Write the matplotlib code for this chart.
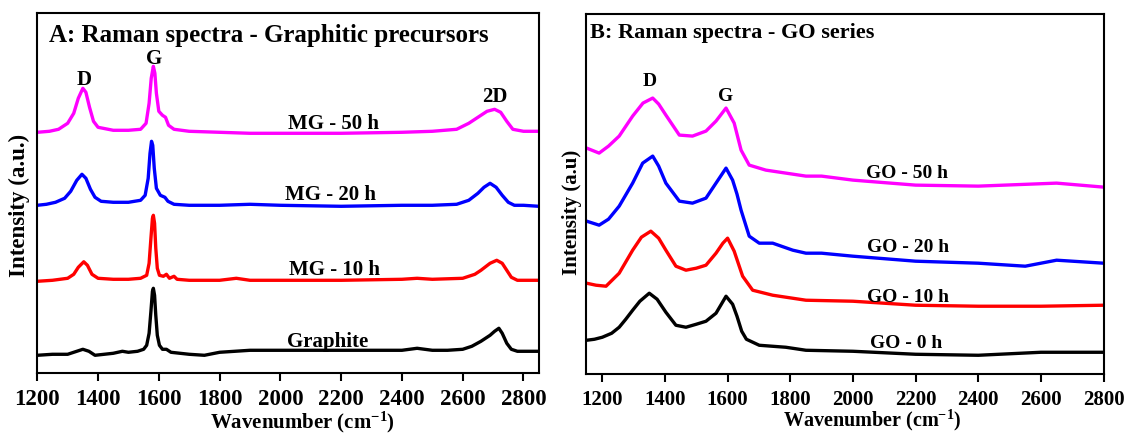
import numpy as np
import matplotlib
matplotlib.use("Agg")
import matplotlib.pyplot as plt

plt.rcParams['font.family'] = ['Liberation Serif', 'DejaVu Serif']
plt.rcParams['font.weight'] = 'bold'
plt.rcParams['axes.labelweight'] = 'bold'
plt.rcParams['mathtext.fontset'] = 'custom'
plt.rcParams['mathtext.rm'] = 'Liberation Serif:bold'
plt.rcParams['mathtext.bf'] = 'Liberation Serif:bold'
plt.rcParams['mathtext.default'] = 'rm'

## Panel A : graphitic precursors (intensity in arbitrary units, offset stacked)
wn_graphite = [1200, 1250, 1300, 1330, 1350, 1370, 1390, 1420, 1450, 1480, 1500, 1530, 1550, 1560, 1568,
               1574, 1579, 1582, 1586, 1590, 1595, 1602, 1612, 1625, 1640, 1700, 1750, 1800, 1850, 1900,
               2000, 2100, 2200, 2300, 2400, 2450, 2500, 2550, 2600, 2630, 2660, 2690, 2705, 2719, 2730,
               2745, 2760, 2780, 2850]
int_graphite = [18, 19, 19, 22, 24, 22, 18, 19, 20, 22, 21, 22, 24, 28, 40,
                62, 82, 85, 78, 58, 38, 28, 24, 24, 21, 19, 18, 21, 22, 23,
                23, 23, 23, 23, 23, 25, 23, 23, 24, 27, 32, 38, 42, 45, 40,
                30, 24, 22, 22]

wn_mg10 = [1200, 1250, 1300, 1320, 1335, 1353, 1365, 1380, 1400, 1450, 1500, 1540, 1560, 1568, 1574,
           1579, 1582, 1586, 1590, 1595, 1602, 1615, 1625, 1635, 1650, 1660, 1700, 1800, 1855, 1900,
           2000, 2200, 2400, 2450, 2500, 2600, 2640, 2660, 2690, 2712, 2730, 2745, 2760, 2780, 2850]
int_mg10 = [92, 93, 95, 99, 106, 111.5, 108, 99, 95, 94, 94, 95, 98, 110, 135,
            155, 158, 150, 125, 105, 98, 97, 99, 95, 97, 94, 93, 93, 95, 93,
            93, 93, 94, 95, 94, 95, 99, 103, 110, 113, 110, 103, 96, 93, 93]

wn_mg20 = [1200, 1230, 1260, 1290, 1310, 1330, 1347, 1360, 1375, 1390, 1410, 1450, 1500, 1540, 1555,
           1565, 1571, 1576, 1580, 1585, 1592, 1605, 1620, 1630, 1650, 1700, 1800, 1900, 2000, 2200,
           2400, 2500, 2580, 2620, 2650, 2670, 2690, 2710, 2730, 2750, 2770, 2800, 2850]
int_mg20 = [168, 169, 171, 175, 182, 193, 199, 195, 184, 176, 172, 171, 171, 173, 178,
            195, 220, 232, 228, 205, 185, 178, 176, 172, 169, 168, 168, 169, 168, 167,
            168, 168, 169, 173, 180, 186, 190, 186, 178, 171, 168, 168, 167]

wn_mg50 = [1200, 1240, 1270, 1300, 1320, 1335, 1350, 1360, 1372, 1385, 1400, 1450, 1500, 1540, 1558,
           1568, 1575, 1582, 1587, 1592, 1600, 1612, 1622, 1632, 1650, 1700, 1800, 1900, 2000, 2200,
           2400, 2500, 2580, 2620, 2650, 2680, 2705, 2725, 2745, 2765, 2800, 2850]
int_mg50 = [241, 242, 244, 250, 260, 275, 285, 281, 266, 252, 246, 243, 243, 244, 250,
            270, 295, 307, 300, 280, 262, 258, 256, 248, 244, 242, 241, 240, 240, 240,
            241, 242, 244, 250, 256, 262, 264, 261, 252, 244, 242, 242]

## Panel B : GO series
wn_go0 = [1150, 1175, 1200, 1230, 1254, 1275, 1297, 1320, 1350, 1375, 1403, 1435, 1467, 1500, 1531,
          1563, 1580, 1595, 1616, 1630, 1645, 1660, 1701, 1786, 1850, 2000, 2200, 2400, 2600, 2800]
int_go0 = [34, 35, 37, 41, 47, 55, 64, 73, 81, 75, 62, 49, 47, 50, 53,
           61, 70, 78, 70, 58, 43, 35, 29, 27, 24, 23, 20, 19, 22, 22]

wn_go10 = [1150, 1180, 1212, 1254, 1297, 1325, 1355, 1380, 1403, 1435, 1467, 1500, 1531, 1563, 1585,
           1600, 1621, 1635, 1648, 1680, 1744, 1850, 2000, 2200, 2400, 2600, 2800]
int_go10 = [91, 89, 88, 101, 124, 137, 143, 136, 124, 108, 104, 106, 109, 121, 131,
            136, 123, 110, 98, 84, 79, 74, 73, 69, 68, 68, 69]

wn_go20 = [1150, 1190, 1220, 1254, 1297, 1329, 1361, 1380, 1403, 1446, 1488, 1531, 1563, 1595, 1616,
           1630, 1643, 1669, 1701, 1744, 1808, 1850, 1900, 2000, 2200, 2400, 2550, 2650, 2800]
int_go20 = [153, 149, 155, 168, 191, 211, 218, 208, 191, 173, 171, 176, 191, 206, 194,
            180, 164, 138, 131, 131, 124, 121, 121, 118, 113, 111, 108, 114, 111]

wn_go50 = [1150, 1190, 1220, 1254, 1297, 1330, 1361, 1380, 1403, 1446, 1488, 1531, 1563, 1595, 1621,
           1643, 1669, 1722, 1786, 1850, 1900, 2000, 2200, 2400, 2650, 2800]
int_go50 = [226, 221, 228, 238, 258, 271, 276, 270, 259, 239, 238, 243, 253, 266, 251,
            224, 209, 204, 201, 198, 198, 194, 189, 188, 191, 187]

fig = plt.figure(figsize=(11.26, 4.33), dpi=100)
axA = fig.add_axes([0.0331, 0.1379, 0.4453, 0.8314])
axB = fig.add_axes([0.5204, 0.1356, 0.4597, 0.8321])

lw = 2.4
axA.plot(wn_graphite, int_graphite, color='black', lw=lw)
axA.plot(wn_mg10, int_mg10, color='#ff0000', lw=lw)
axA.plot(wn_mg20, int_mg20, color='#0000ff', lw=lw)
axA.plot(wn_mg50, int_mg50, color='#ff00ff', lw=lw)

axB.plot(wn_go0, int_go0, color='black', lw=lw)
axB.plot(wn_go10, int_go10, color='#ff0000', lw=lw)
axB.plot(wn_go20, int_go20, color='#0000ff', lw=lw)
axB.plot(wn_go50, int_go50, color='#ff00ff', lw=lw)

axA.set_xlim(1200, 2850)
axA.set_ylim(0, 360)
axB.set_xlim(1148, 2800)
axB.set_ylim(0, 360)

for ax, fs in ((axA, 16.5), (axB, 15)):
    ax.set_xticks(np.arange(1200, 2801, 200))
    ax.set_yticks([])
    ax.tick_params(axis='x', direction='out', length=6, width=1.5, pad=5, labelsize=fs)
    for sp in ax.spines.values():
        sp.set_linewidth(1.5)

# sample labels
lab = 15
axA.text(2175, 244, 'MG - 50 h', ha='center', va='baseline', fontsize=lab)
axA.text(2165, 173, 'MG - 20 h', ha='center', va='baseline', fontsize=lab)
axA.text(2177, 98, 'MG - 10 h', ha='center', va='baseline', fontsize=lab)
axA.text(2155, 26, 'Graphite', ha='center', va='baseline', fontsize=lab)
axA.text(1353, 288, 'D', ha='center', va='baseline', fontsize=lab)
axA.text(1583, 309, 'G', ha='center', va='baseline', fontsize=lab)
axA.text(2705, 271, '2D', ha='center', va='baseline', fontsize=lab)

labB = 14
axB.text(2174, 196, 'GO - 50 h', ha='center', va='baseline', fontsize=labB)
axB.text(2177, 122.6, 'GO - 20 h', ha='center', va='baseline', fontsize=labB)
axB.text(2177, 72.6, 'GO - 10 h', ha='center', va='baseline', fontsize=labB)
axB.text(2171, 26, 'GO - 0 h', ha='center', va='baseline', fontsize=labB)
axB.text(1352, 288, 'D', ha='center', va='baseline', fontsize=labB)
axB.text(1594, 273, 'G', ha='center', va='baseline', fontsize=labB)

axA.text(0.024, 0.921, 'A: Raman spectra - Graphitic precursors', transform=axA.transAxes,
         ha='left', va='baseline', fontsize=18)
axB.text(0.008, 0.934, 'B: Raman spectra - GO series', transform=axB.transAxes,
         ha='left', va='baseline', fontsize=16)

axA.set_xlabel('Wavenumber (cm$^{-1}$)', fontsize=15)
axA.xaxis.set_label_coords(0.528, -0.135)
axA.xaxis.label.set_va('center')
axA.set_ylabel('Intensity (a.u.)', fontsize=16.5)
axA.yaxis.set_label_coords(-0.036, 0.466)
axA.yaxis.label.set_va('center')

axB.set_xlabel('Wavenumber (cm$^{\\mathbf{-1}}$)', fontsize=14.5)
axB.xaxis.set_label_coords(0.553, -0.129)
axB.xaxis.label.set_va('center')
axB.set_ylabel('Intensity (a.u)', fontsize=15)
axB.yaxis.set_label_coords(-0.0265, 0.448)
axB.yaxis.label.set_va('center')

fig.savefig('out.png', dpi=100)
